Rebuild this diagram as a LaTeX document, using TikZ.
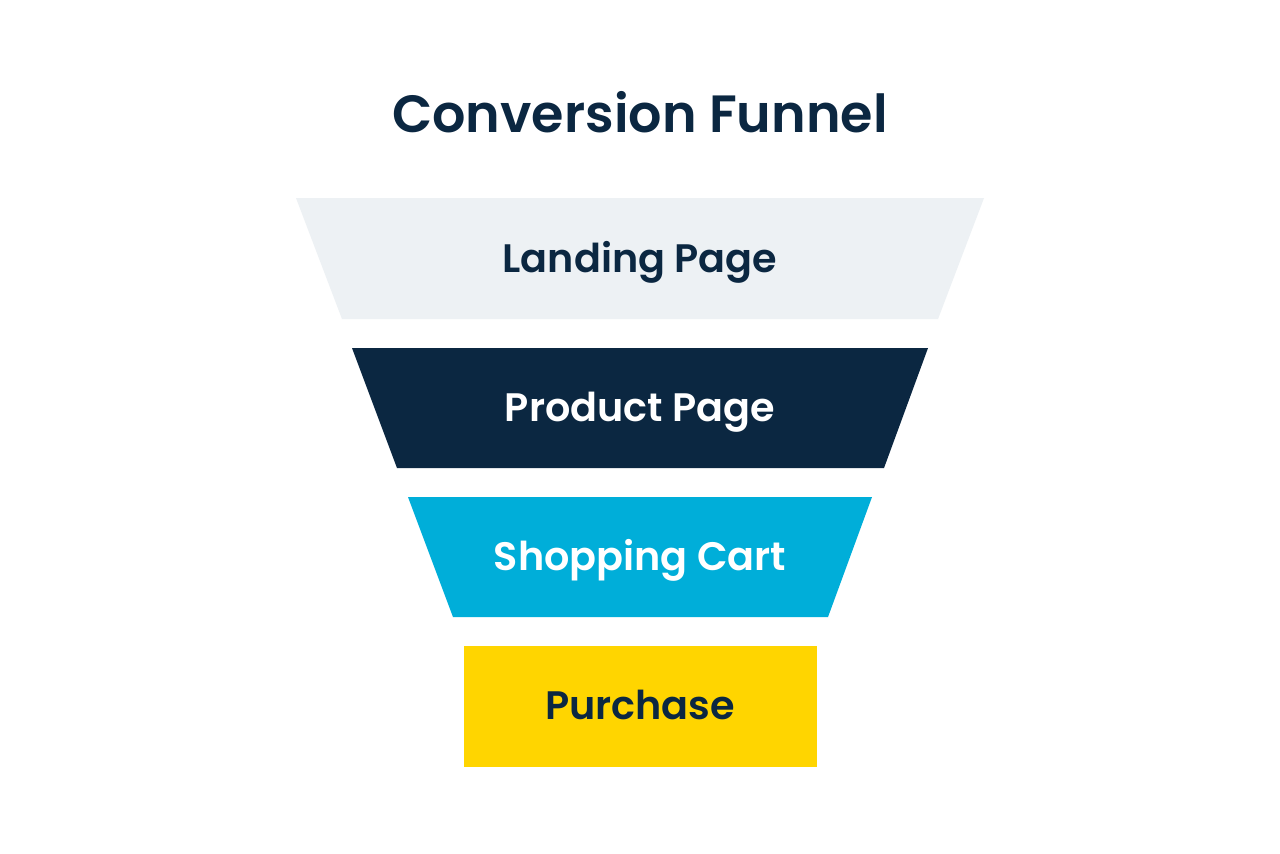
\documentclass[tikz,border=0pt]{standalone}
\usepackage{fontspec}
\setmainfont{Poppins}[BoldFont={Poppins SemiBold}]
\definecolor{navy}{HTML}{0B2741}
\definecolor{mist}{HTML}{EDF1F4}
\definecolor{cyan}{HTML}{00AED9}
\definecolor{gold}{HTML}{FFD500}
\begin{document}
\begin{tikzpicture}[x=0.01cm, y=-0.01cm,
    stage/.style={font=\fontsize{11.3}{14}\selectfont\bfseries, inner sep=0pt, anchor=base},
    title/.style={font=\fontsize{14.9}{18}\selectfont\bfseries, text=navy, inner sep=0pt, anchor=base}]
  \useasboundingbox[fill=white] (0,0) rectangle (1280,853);
  \node[title] (title) at (640,132) {Conversion Funnel};
  \fill[mist] (296,198) -- (984,198) -- (938,319) -- (342,319) -- cycle;
  \node[stage, text=navy] (landing) at (640,272) {Landing Page};
  \fill[navy] (352,348) -- (928,348) -- (884,468) -- (397,468) -- cycle;
  \node[stage, text=white] (product) at (640,421) {Product Page};
  \fill[cyan] (408,497) -- (872,497) -- (828,617) -- (453,617) -- cycle;
  \node[stage, text=white] (cart) at (640,570) {Shopping Cart};
  \fill[gold] (464,646) rectangle (817,767);
  \node[stage, text=navy] (purchase) at (640,719) {Purchase};
\end{tikzpicture}
\end{document}
